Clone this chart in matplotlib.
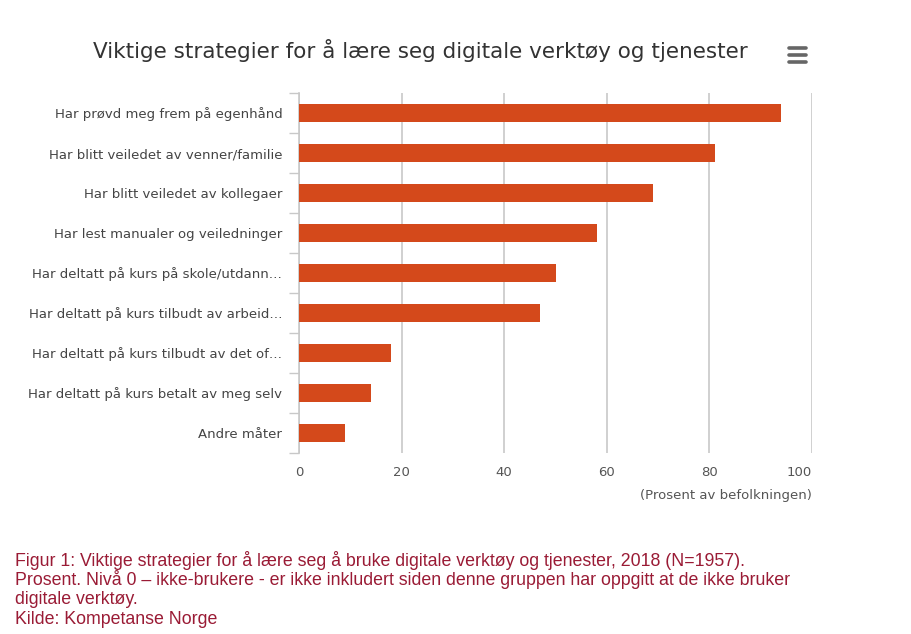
import matplotlib
matplotlib.use('Agg')
import matplotlib.pyplot as plt
from matplotlib.lines import Line2D
from matplotlib.ticker import FixedLocator

plt.rcParams['font.family'] = ['DejaVu Sans']

W, H = 911, 634

categories = [
    'Har prøvd meg frem på egenhånd',
    'Har blitt veiledet av venner/familie',
    'Har blitt veiledet av kollegaer',
    'Har lest manualer og veiledninger',
    'Har deltatt på kurs på skole/utdann…',
    'Har deltatt på kurs tilbudt av arbeid…',
    'Har deltatt på kurs tilbudt av det of…',
    'Har deltatt på kurs betalt av meg selv',
    'Andre måter',
]
values = [94, 81, 69, 58, 50, 47, 18, 14, 9]
x_ticks = [0, 20, 40, 60, 80, 100]

BAR_COLOR = '#d4491b'
GRID_COLOR = '#c8c8c8'
TEXT_COLOR = '#555555'
CAPTION_COLOR = '#9a1b35'

fig = plt.figure(figsize=(W / 100, H / 100), dpi=100)
fig.patch.set_facecolor('white')


def px(x, y):
    return x / W, 1 - y / H


left, top = px(299, 93)
right, bottom = px(812, 453)
ax = fig.add_axes([left, bottom, right - left, top - bottom])

ypos = list(range(len(categories)))
ax.barh(ypos, values, height=0.47, color=BAR_COLOR, zorder=3)

ax.set_xlim(0, 100)
ax.set_ylim(len(categories) - 0.5, -0.5)
ax.set_xticks(x_ticks)
ax.set_xticklabels([str(t) for t in x_ticks], fontsize=9.5, color=TEXT_COLOR)
ax.get_xticklabels()[-1].set_horizontalalignment('right')
ax.tick_params(axis='x', length=0, pad=9)
ax.set_yticks(ypos)
ax.set_yticklabels(categories, fontsize=9.5, color='#444444')
ax.tick_params(axis='y', which='major', length=0, pad=12)
ax.yaxis.set_minor_locator(FixedLocator([i - 0.5 for i in range(len(categories) + 1)]))
ax.tick_params(axis='y', which='minor', length=7.5, width=1, color=GRID_COLOR)

ax.grid(axis='x', color=GRID_COLOR, linewidth=1.2, zorder=0)
for s in ['top', 'right', 'bottom']:
    ax.spines[s].set_visible(False)
ax.spines['left'].set_color(GRID_COLOR)
ax.spines['left'].set_linewidth(1.2)

# title
tx, ty = px(420, 50)
fig.text(tx, ty, 'Viktige strategier for å lære seg digitale verktøy og tjenester',
         ha='center', va='center', fontsize=15.5, color='#333333')

# menu icon
for yy in (48, 55, 62):
    x0, y0 = px(789, yy)
    x1, _ = px(806, yy)
    fig.add_artist(Line2D([x0, x1], [y0, y0], color='#666666', linewidth=2.6,
                          solid_capstyle='round'))

# x-axis title
lx, ly = px(812, 496)
fig.text(lx, ly, '(Prosent av befolkningen)', ha='right', va='center',
         fontsize=9.5, color=TEXT_COLOR)

# caption
caption = [
    'Figur 1: Viktige strategier for å lære seg å bruke digitale verktøy og tjenester, 2018 (N=1957).',
    'Prosent. Nivå 0 – ikke-brukere - er ikke inkludert siden denne gruppen har oppgitt at de ikke bruker',
    'digitale verktøy.',
    'Kilde: Kompetanse Norge',
]
for i, line in enumerate(caption):
    cx, cy = px(15, 560 + i * 19.7)
    fig.text(cx, cy, line, ha='left', va='center', fontsize=12.8,
             family='Liberation Sans', color=CAPTION_COLOR)

plt.savefig('out.png', dpi=100, facecolor='white')
plt.close()
